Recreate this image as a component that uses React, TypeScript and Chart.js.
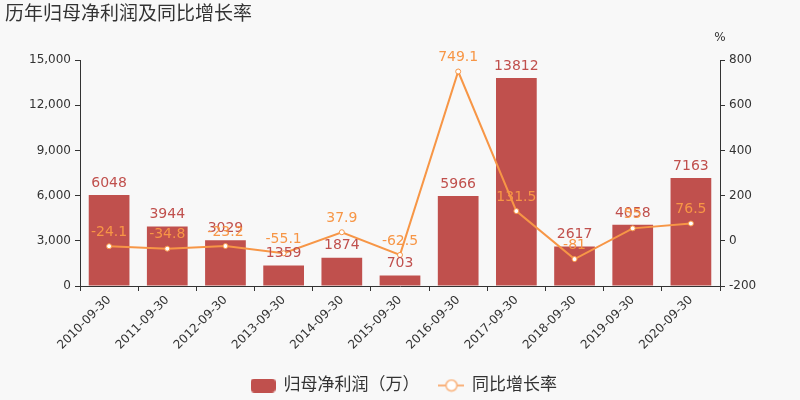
import React, { useEffect, useRef } from 'react';
import { Chart, registerables } from 'chart.js';

Chart.register(...registerables);

const categories = [
  '2010-09-30', '2011-09-30', '2012-09-30', '2013-09-30', '2014-09-30', '2015-09-30',
  '2016-09-30', '2017-09-30', '2018-09-30', '2019-09-30', '2020-09-30',
];
const netProfit = [6048, 3944, 3029, 1359, 1874, 703, 5966, 13812, 2617, 4058, 7163];
const growthRate = [-24.1, -34.8, -23.2, -55.1, 37.9, -62.5, 749.1, 131.5, -81, 55, 76.5];

const TITLE = '历年归母净利润及同比增长率';
const BAR_LABEL = '归母净利润（万）';
const LINE_LABEL = '同比增长率';

const BAR_COLOR = '#c0504d';
const LINE_COLOR = '#f79646';
const TEXT = '#333';
const FONT = '"DejaVu Sans", "Noto Sans CJK SC", sans-serif';

function makeBarIcon() {
  const c = document.createElement('canvas');
  c.width = 25;
  c.height = 14;
  const ctx = c.getContext('2d')!;
  ctx.fillStyle = BAR_COLOR;
  ctx.beginPath();
  ctx.roundRect(0, 0, 25, 14, 4);
  ctx.fill();
  return c;
}

function makeLineIcon() {
  const c = document.createElement('canvas');
  c.width = 26;
  c.height = 14;
  const ctx = c.getContext('2d')!;
  ctx.strokeStyle = '#f9b27c';
  ctx.lineWidth = 2;
  ctx.beginPath();
  ctx.moveTo(0, 7);
  ctx.lineTo(26, 7);
  ctx.stroke();
  ctx.fillStyle = '#fff';
  ctx.beginPath();
  ctx.arc(13, 7, 5.5, 0, Math.PI * 2);
  ctx.fill();
  ctx.lineWidth = 1.5;
  ctx.stroke();
  return c;
}

const decorPlugin = {
  id: 'decor',
  beforeDraw(chart: Chart) {
    const { ctx, width, height } = chart;
    ctx.save();
    ctx.fillStyle = '#f8f8f8';
    ctx.fillRect(0, 0, width, height);
    ctx.restore();
  },
  afterDatasetsDraw(chart: Chart) {
    const { ctx } = chart;
    ctx.save();
    ctx.font = `19px ${FONT}`;
    ctx.fillStyle = TEXT;
    ctx.textAlign = 'left';
    ctx.textBaseline = 'middle';
    ctx.fillText(TITLE, 5, 15);

    ctx.font = `12px ${FONT}`;
    ctx.textAlign = 'center';
    ctx.fillText('%', 720, 38);

    ctx.font = `14px ${FONT}`;
    ctx.textBaseline = 'bottom';
    const barMeta = chart.getDatasetMeta(0);
    ctx.fillStyle = BAR_COLOR;
    barMeta.data.forEach((el: any, i) => {
      ctx.fillText(String(netProfit[i]), el.x, el.y - 5);
    });
    const lineMeta = chart.getDatasetMeta(1);
    ctx.fillStyle = LINE_COLOR;
    lineMeta.data.forEach((el: any, i) => {
      ctx.fillText(String(growthRate[i]), el.x, el.y - 7);
    });
    ctx.restore();
  },
};

export default function App() {
  const canvasRef = useRef<HTMLCanvasElement>(null);
  const chartInstance = useRef<Chart | null>(null);

  useEffect(() => {
    document.body.style.margin = '0';
    document.body.style.background = '#f8f8f8';
    if (!canvasRef.current) return;
    const ctx = canvasRef.current.getContext('2d');
    if (!ctx) return;

    const barIcon = makeBarIcon();
    const lineIcon = makeLineIcon();

    chartInstance.current = new Chart(ctx, {
      type: 'bar',
      data: {
        labels: categories,
        datasets: [
          {
            type: 'bar',
            label: BAR_LABEL,
            data: netProfit,
            backgroundColor: BAR_COLOR,
            yAxisID: 'y',
            barPercentage: 0.7,
            categoryPercentage: 1,
            order: 1,
          },
          {
            type: 'line',
            label: LINE_LABEL,
            data: growthRate,
            borderColor: LINE_COLOR,
            borderWidth: 2,
            pointRadius: 2.5,
            pointBackgroundColor: '#fff',
            pointBorderColor: LINE_COLOR,
            pointBorderWidth: 1,
            tension: 0,
            yAxisID: 'y1',
            order: 0,
          } as any,
        ],
      },
      options: {
        responsive: true,
        maintainAspectRatio: false,
        animation: false,
        layout: { padding: { top: 60, left: 8, right: 0, bottom: -4 } },
        scales: {
          x: {
            grid: {
              drawOnChartArea: false,
              drawTicks: true,
              tickLength: 5,
              color: TEXT,
              offset: true,
            },
            border: { display: true, color: TEXT },
            ticks: {
              color: TEXT,
              font: { family: FONT, size: 12 },
              minRotation: 45,
              maxRotation: 45,
              autoSkip: false,
              padding: 2,
            },
            afterFit(scale: any) {
              scale.height = 71;
            },
          },
          y: {
            position: 'left',
            min: 0,
            max: 15000,
            ticks: {
              stepSize: 3000,
              color: TEXT,
              font: { family: FONT, size: 12 },
              padding: 4,
            },
            grid: { drawOnChartArea: false, tickLength: 5, color: TEXT },
            border: { display: true, color: TEXT },
            afterFit(scale: any) {
              scale.width = 72;
            },
          },
          y1: {
            position: 'right',
            min: -200,
            max: 800,
            ticks: {
              stepSize: 200,
              color: TEXT,
              font: { family: FONT, size: 12 },
              padding: 4,
            },
            grid: { drawOnChartArea: false, tickLength: 5, color: TEXT },
            border: { display: true, color: TEXT },
            afterFit(scale: any) {
              scale.width = 80;
            },
          },
        },
        plugins: {
          title: { display: false },
          tooltip: { enabled: false },
          legend: {
            position: 'bottom',
            labels: {
              usePointStyle: true,
              pointStyleWidth: 24,
              color: TEXT,
              font: { family: FONT, size: 17 },
              padding: 20,
              generateLabels: () => [
                {
                  text: BAR_LABEL,
                  pointStyle: barIcon as any,
                  fillStyle: BAR_COLOR,
                  strokeStyle: BAR_COLOR,
                  lineWidth: 0,
                  hidden: false,
                  datasetIndex: 0,
                  fontColor: TEXT,
                },
                {
                  text: LINE_LABEL,
                  pointStyle: lineIcon as any,
                  fillStyle: '#fff',
                  strokeStyle: LINE_COLOR,
                  lineWidth: 0,
                  hidden: false,
                  datasetIndex: 1,
                  fontColor: TEXT,
                },
              ],
            },
          },
        },
      },
      plugins: [decorPlugin],
    });

    return () => {
      chartInstance.current?.destroy();
    };
  }, []);

  return (
    <div style={{ position: 'absolute', left: 0, top: 0, width: '800px', height: '400px' }}>
      <canvas ref={canvasRef} />
    </div>
  );
}
